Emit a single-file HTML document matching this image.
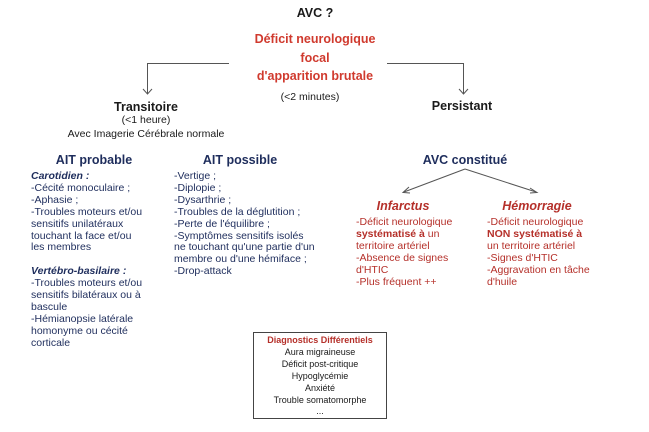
<!DOCTYPE html>
<html><head><meta charset="utf-8"><style>
body{margin:0;width:649px;height:432px;background:#fff;position:relative;font-family:"Liberation Sans",Arial,sans-serif;overflow:hidden}
.a{position:absolute;white-space:nowrap;line-height:12px}
.c{transform:translateX(-50%);text-align:center}
.b{font-weight:bold}
.r{color:#d03a2e}
.rd{color:#b5302a}
.n{color:#1e2d5c}
.k{color:#1a1a1a}
.t{font-size:10.5px}
.l{position:absolute;font-size:10.5px;line-height:11.9px;white-space:nowrap}
</style></head><body>
<svg width="649" height="432" style="position:absolute;left:0;top:0">
<g stroke="#555" stroke-width="1" fill="none">
<polyline points="229,63.5 147.5,63.5 147.5,94"/>
<polyline points="387,63.5 463.5,63.5 463.5,94"/>
<polyline points="143,89 147.5,94 152,89"/>
<polyline points="459,89 463.5,94 468,89"/>
<line x1="465" y1="169" x2="404" y2="192"/>
<line x1="465" y1="169" x2="536" y2="192"/>
<polyline points="409,187 403,192.5 410,193"/>
<polyline points="530,188 537,192.5 530,193"/>
<rect x="253.5" y="332.5" width="133" height="86" stroke="#444"/>
</g></svg>
<div class="a c b k" style="left:315px;top:7px;font-size:12.5px">AVC ?</div>
<div class="a c b r" style="left:315px;top:33px;font-size:12.5px">Déficit neurologique</div>
<div class="a c b r" style="left:315px;top:52px;font-size:12.5px">focal</div>
<div class="a c b r" style="left:315px;top:70px;font-size:12.5px">d'apparition brutale</div>
<div class="a c k t" style="left:310px;top:91px">(&lt;2 minutes)</div>
<div class="a c b k" style="left:146px;top:101px;font-size:12.5px">Transitoire</div>
<div class="a c k t" style="left:146px;top:114px">(&lt;1 heure)</div>
<div class="a c k t" style="left:146px;top:128px">Avec Imagerie Cérébrale normale</div>
<div class="a c b k" style="left:462px;top:100px;font-size:12.5px">Persistant</div>
<div class="a c b n" style="left:94px;top:154px;font-size:12.5px">AIT probable</div>
<div class="a c b n" style="left:240px;top:154px;font-size:12.5px">AIT possible</div>
<div class="a c b n" style="left:465px;top:154px;font-size:12.5px">AVC constitué</div>
<div class="l n" style="left:31px;top:171px"><b><i>Carotidien :</i></b><br>-Cécité monoculaire ;<br>-Aphasie ;<br>-Troubles moteurs et/ou<br>sensitifs unilatéraux<br>touchant la face et/ou<br>les membres<br><br><b><i>Vertébro-basilaire :</i></b><br>-Troubles moteurs et/ou<br>sensitifs bilatéraux ou à<br>bascule<br>-Hémianopsie latérale<br>homonyme ou cécité<br>corticale</div>
<div class="l n" style="left:174px;top:171px">-Vertige ;<br>-Diplopie ;<br>-Dysarthrie ;<br>-Troubles de la déglutition ;<br>-Perte de l'équilibre ;<br>-Symptômes sensitifs isolés<br>ne touchant qu'une partie d'un<br>membre ou d'une hémiface ;<br>-Drop-attack</div>
<div class="a c b rd" style="left:403px;top:200px;font-size:12.5px"><i>Infarctus</i></div>
<div class="a c b rd" style="left:537px;top:200px;font-size:12.5px"><i>Hémorragie</i></div>
<div class="l rd" style="left:356px;top:217px">-Déficit neurologique<br><b>systématisé à</b> un<br>territoire artériel<br>-Absence de signes<br>d'HTIC<br>-Plus fréquent ++</div>
<div class="l rd" style="left:487px;top:217px">-Déficit neurologique<br><b>NON systématisé à</b><br>un territoire artériel<br>-Signes d'HTIC<br>-Aggravation en tâche<br>d'huile</div>
<div class="a c b rd" style="left:320px;top:334px;font-size:9px">Diagnostics Différentiels</div>
<div class="a c k" style="left:320px;top:346px;font-size:9px">Aura migraineuse</div>
<div class="a c k" style="left:320px;top:358px;font-size:9px">Déficit post-critique</div>
<div class="a c k" style="left:320px;top:370px;font-size:9px">Hypoglycémie</div>
<div class="a c k" style="left:320px;top:382px;font-size:9px">Anxiété</div>
<div class="a c k" style="left:320px;top:394px;font-size:9px">Trouble somatomorphe</div>
<div class="a c k" style="left:320px;top:405px;font-size:9px">...</div>
</body></html>
